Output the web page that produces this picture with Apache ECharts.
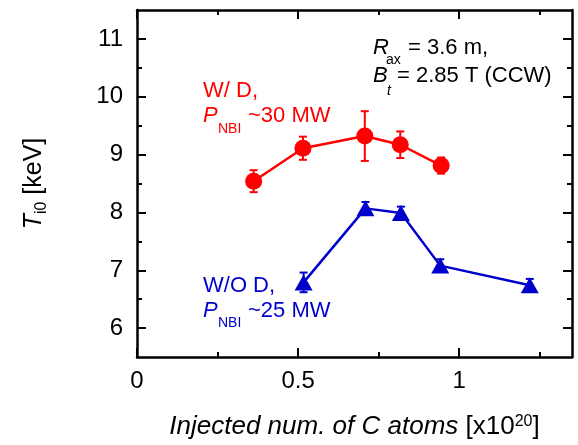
<!DOCTYPE html>
<html>
<head>
<meta charset="utf-8">
<script src="https://cdn.jsdelivr.net/npm/echarts@6/dist/echarts.min.js"></script>
<style>
html,body{margin:0;padding:0;background:#fff;}
#chart{width:578px;height:445px;}
</style>
</head>
<body>
<div id="chart"></div>
<script>
// ---- data ----
const redX = [0.362, 0.515, 0.707, 0.817, 0.944];
const redY = [8.54, 9.11, 9.32, 9.17, 8.81];
const redErr = [0.19, 0.20, 0.43, 0.23, 0.14];
const blueX = [0.517, 0.709, 0.819, 0.941, 1.219];
const blueY = [6.79, 8.07, 7.99, 7.08, 6.74];
const blueErr = [0.17, 0.11, 0.11, 0.11, 0.11];
const xMajor = [0, 0.5, 1];
const xMinor = [0.25, 0.75, 1.25];
const yMajor = [6, 7, 8, 9, 10, 11];
const yMinor = [6.5, 7.5, 8.5, 9.5, 10.5];

const RED = '#ff0000';
const BLUE = '#0000cc';
const FONT = '"Liberation Sans", Arial, sans-serif';

const chart = echarts.init(document.getElementById('chart'));

function xAx(pos, ticks, len, showLine, showLabel) {
  return {
    type: 'value', position: pos, min: 0, max: 1.35,
    axisLine: {show: showLine, onZero: false, lineStyle: {color: '#000', width: 2.5}},
    axisTick: {show: true, inside: true, length: len, customValues: ticks, lineStyle: {color: '#000', width: 2}},
    axisLabel: {show: showLabel, customValues: ticks, margin: 12, color: '#000', fontSize: 24, fontFamily: FONT},
    splitLine: {show: false}
  };
}
function yAx(pos, ticks, len, showLine, showLabel) {
  return {
    type: 'value', position: pos, min: 5.5, max: 11.5,
    axisLine: {show: showLine, onZero: false, lineStyle: {color: '#000', width: 2.5}},
    axisTick: {show: true, inside: true, length: len, customValues: ticks, lineStyle: {color: '#000', width: 2}},
    axisLabel: {show: showLabel, customValues: ticks, margin: 14, color: '#000', fontSize: 24, fontFamily: FONT},
    splitLine: {show: false}
  };
}

const xAxes = [
  xAx('bottom', xMajor, 9, true, true),
  xAx('bottom', xMinor, 5, false, false),
  xAx('top', xMajor, 9, true, false),
  xAx('top', xMinor, 5, false, false)
];
Object.assign(xAxes[0], {
  name: '{i|Injected num. of C atoms} {n|[x10}{s|20}{n|]}',
  nameLocation: 'middle', nameGap: 57,
  nameTextStyle: {
    color: '#000', fontFamily: FONT, fontSize: 26,
    rich: {
      i: {fontStyle: 'italic', fontSize: 26, fontFamily: FONT, color: '#000', lineHeight: 26, verticalAlign: 'bottom'},
      n: {fontSize: 26, fontFamily: FONT, color: '#000', lineHeight: 26, verticalAlign: 'bottom'},
      s: {fontSize: 16, fontFamily: FONT, color: '#000', lineHeight: 26, verticalAlign: 'top'}
    }
  }
});
const yAxes = [
  yAx('left', yMajor, 9, true, true),
  yAx('left', yMinor, 5, false, false),
  yAx('right', yMajor, 9, true, false),
  yAx('right', yMinor, 5, false, false)
];
Object.assign(yAxes[0], {
  name: '{t|T}{s|i0}{n| [keV]}',
  nameLocation: 'middle', nameGap: 87, nameRotate: 90,
  nameTextStyle: {
    color: '#000', fontFamily: FONT, fontSize: 24,
    rich: {
      t: {fontStyle: 'italic', fontSize: 25, fontFamily: FONT, color: '#000', lineHeight: 28, verticalAlign: 'top'},
      s: {fontSize: 16, fontFamily: FONT, color: '#000', lineHeight: 28, verticalAlign: 'bottom'},
      n: {fontSize: 25, fontFamily: FONT, color: '#000', lineHeight: 28, verticalAlign: 'top'}
    }
  }
});

function errSeries(xs, ys, errs, color) {
  return {
    type: 'custom', xAxisIndex: 0, yAxisIndex: 0, silent: true, z: 1,
    data: xs.map((x, i) => [x, ys[i] - errs[i], ys[i] + errs[i]]),
    encode: {x: 0, y: [1, 2]},
    renderItem: function (params, api) {
      const lo = api.coord([api.value(0), api.value(1)]);
      const hi = api.coord([api.value(0), api.value(2)]);
      const w = 4;
      const st = {stroke: color, lineWidth: 2};
      return {type: 'group', children: [
        {type: 'line', shape: {x1: lo[0], y1: lo[1], x2: hi[0], y2: hi[1]}, style: st},
        {type: 'line', shape: {x1: lo[0] - w, y1: lo[1], x2: lo[0] + w, y2: lo[1]}, style: st},
        {type: 'line', shape: {x1: hi[0] - w, y1: hi[1], x2: hi[0] + w, y2: hi[1]}, style: st}
      ]};
    }
  };
}

function txt(x, y, text, size, color, italic) {
  return {
    type: 'text', x: x, y: y, z: 10,
    style: {
      text: text, fill: color,
      font: (italic ? 'italic ' : '') + size + 'px ' + FONT,
      align: 'left', verticalAlign: 'middle'
    }
  };
}

const option = {
  animation: false,
  backgroundColor: '#fff',
  grid: {left: 137, right: 6, top: 10, bottom: 88, containLabel: false},
  xAxis: xAxes,
  yAxis: yAxes,
  series: [
    errSeries(redX, redY, redErr, RED),
    errSeries(blueX, blueY, blueErr, BLUE),
    {
      type: 'line', xAxisIndex: 0, yAxisIndex: 0, z: 2,
      data: redX.map((x, i) => [x, redY[i]]),
      symbol: 'circle', symbolSize: 17,
      lineStyle: {color: RED, width: 2.5},
      itemStyle: {color: RED}
    },
    {
      type: 'line', xAxisIndex: 0, yAxisIndex: 0, z: 2,
      data: blueX.map((x, i) => [x, blueY[i]]),
      symbol: 'triangle', symbolSize: [18, 16],
      lineStyle: {color: BLUE, width: 2.5},
      itemStyle: {color: BLUE}
    }
  ],
  graphic: [
    txt(203, 90.5, 'W/ D,', 22, RED, false),
    txt(203, 116, 'P', 22, RED, true),
    txt(218, 129, 'NBI', 14, RED, false),
    txt(248, 116, '~30 MW', 22, RED, false),
    txt(203, 285.5, 'W/O D,', 22, BLUE, false),
    txt(203, 310.5, 'P', 22, BLUE, true),
    txt(218, 323.5, 'NBI', 14, BLUE, false),
    txt(248, 310.5, '~25 MW', 22, BLUE, false),
    txt(373, 47.5, 'R', 22, '#000', true),
    txt(386, 60.5, 'ax', 14, '#000', false),
    txt(408, 47.5, '= 3.6 m,', 22, '#000', false),
    txt(373, 75.5, 'B', 22, '#000', true),
    txt(387, 91, 't', 14, '#000', true),
    txt(397, 75.5, '= 2.85 T (CCW)', 22, '#000', false)
  ]
};
chart.setOption(option);
</script>
</body>
</html>
